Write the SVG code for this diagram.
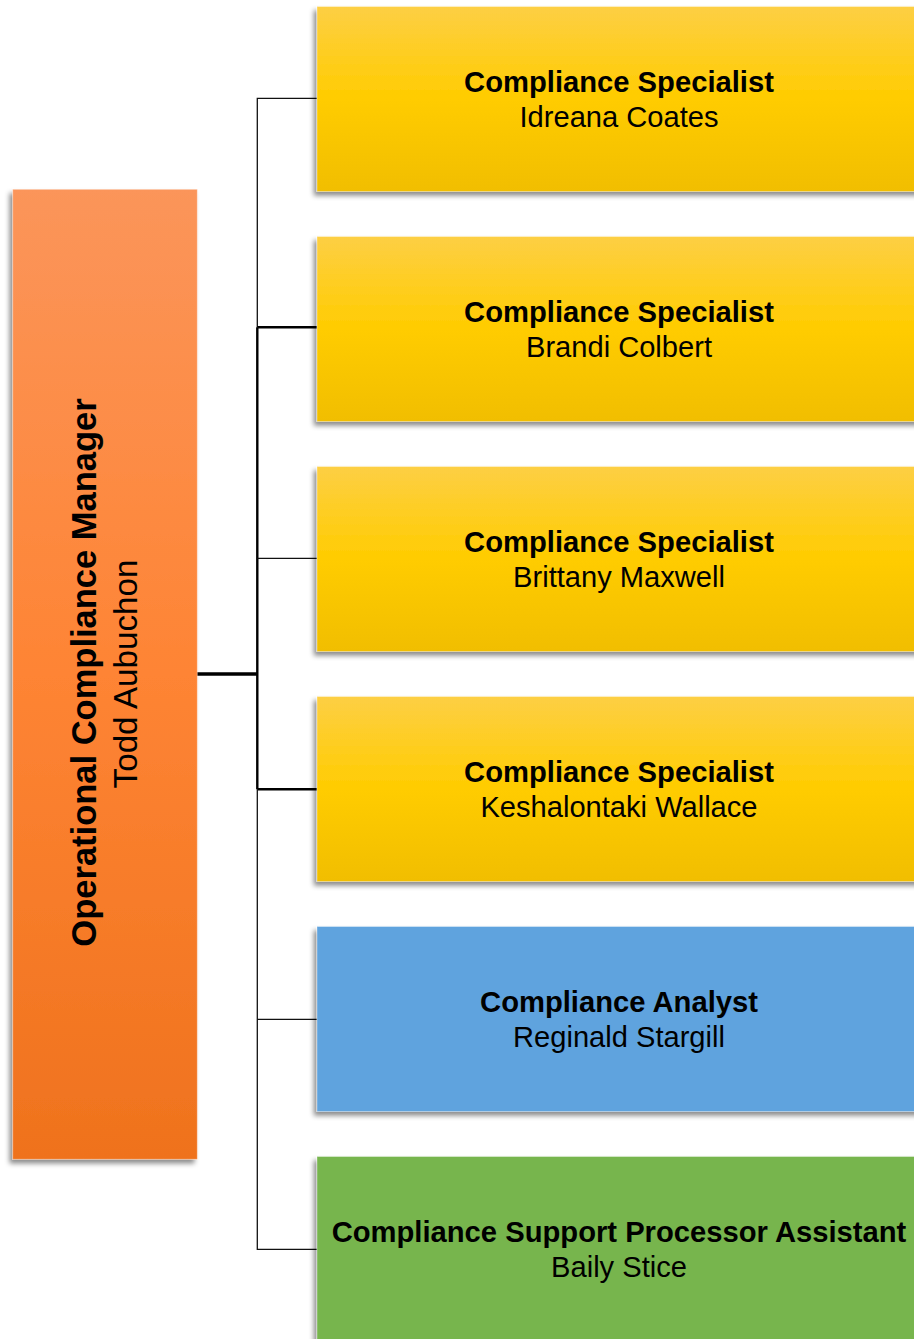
<svg xmlns="http://www.w3.org/2000/svg" width="914" height="1339" viewBox="0 0 914 1339">
<style>
.b{font-family:"Liberation Sans",Arial,sans-serif;font-weight:bold;font-size:29.2px;fill:#000;text-anchor:middle}
.r{font-family:"Liberation Sans",Arial,sans-serif;font-size:29.1px;fill:#000;text-anchor:middle}
.mb{font-family:"Liberation Sans",Arial,sans-serif;font-weight:bold;font-size:34.5px;fill:#000;text-anchor:middle}
.mr{font-family:"Liberation Sans",Arial,sans-serif;font-size:33.2px;fill:#000;text-anchor:middle}
.box{filter:url(#sh);stroke:#ffffff;stroke-opacity:0.35;stroke-width:1}
.thin{stroke:#111;stroke-width:1.3;fill:none}
.thick{stroke:#000;stroke-width:2.4;fill:none}
</style>
<defs>
<filter id="sh" x="-10%" y="-10%" width="120%" height="120%">
<feDropShadow dx="-3" dy="4" stdDeviation="2.5" flood-color="#000" flood-opacity="0.45"/>
</filter>
<linearGradient id="gy" x1="0" y1="0" x2="0" y2="1">
<stop offset="0" stop-color="#FDCF44"/>
<stop offset="0.5" stop-color="#FFCC00"/>
<stop offset="1" stop-color="#F1BE00"/>
</linearGradient>
<linearGradient id="go" x1="0" y1="0" x2="0" y2="1">
<stop offset="0" stop-color="#FB955A"/>
<stop offset="0.5" stop-color="#FE8434"/>
<stop offset="1" stop-color="#EF721D"/>
</linearGradient>
</defs>
<rect width="914" height="1339" fill="#fff"/>

<g id="connectors">
<path class="thin" d="M317 98.3H257.3V327.3"/>
<path class="thick" d="M257.3 327.3V789.3"/>
<path class="thick" d="M257.3 327.3H317"/>
<path class="thick" d="M257.3 789.3H317"/>
<path class="thin" d="M257.3 558.3H317"/>
<path class="thin" d="M257.3 789.3V1249.3H317"/>
<path class="thin" d="M257.3 1019.3H317"/>
<path stroke="#000" stroke-width="3.5" d="M197 674H258"/>
</g>

<g id="manager">
<rect class="box" x="12.7" y="189.3" width="184.6" height="970" fill="url(#go)"/>
<text class="mb" transform="translate(96,672.5) rotate(-90)" x="0" y="0">Operational Compliance Manager</text>
<text class="mr" transform="translate(137,674) rotate(-90)" x="0" y="0">Todd Aubuchon</text>
</g>

<g id="specialist1">
<rect class="box" x="317" y="6.5" width="610" height="185" fill="url(#gy)"/>
<text class="b" x="619" y="92">Compliance Specialist</text>
<text class="r" x="619" y="126.5">Idreana Coates</text>
</g>

<g id="specialist2">
<rect class="box" x="317" y="236.5" width="610" height="185" fill="url(#gy)"/>
<text class="b" x="619" y="322">Compliance Specialist</text>
<text class="r" x="619" y="356.5">Brandi Colbert</text>
</g>

<g id="specialist3">
<rect class="box" x="317" y="466.5" width="610" height="185" fill="url(#gy)"/>
<text class="b" x="619" y="552">Compliance Specialist</text>
<text class="r" x="619" y="586.5">Brittany Maxwell</text>
</g>

<g id="specialist4">
<rect class="box" x="317" y="696.5" width="610" height="185" fill="url(#gy)"/>
<text class="b" x="619" y="782">Compliance Specialist</text>
<text class="r" x="619" y="816.5">Keshalontaki Wallace</text>
</g>

<g id="analyst">
<rect class="box" x="317" y="926.5" width="610" height="185" fill="#5FA3DE"/>
<text class="b" x="619" y="1012">Compliance Analyst</text>
<text class="r" x="619" y="1046.5">Reginald Stargill</text>
</g>

<g id="assistant">
<rect class="box" x="317" y="1156.5" width="610" height="200" fill="#77B54E"/>
<text class="b" x="619" y="1242">Compliance Support Processor Assistant</text>
<text class="r" x="619" y="1276.5">Baily Stice</text>
</g>
</svg>
